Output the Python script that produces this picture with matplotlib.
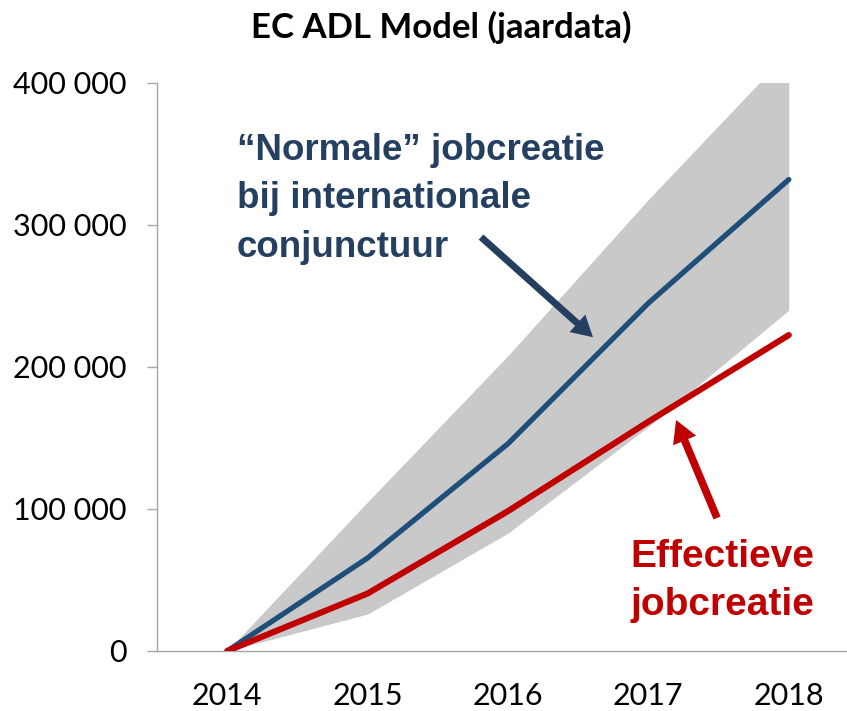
import matplotlib

matplotlib.use("Agg")
import matplotlib.pyplot as plt
import numpy as np

YEARS = ["2014", "2015", "2016", "2017", "2018"]
NORMAL_JOBS = [0, 65500, 146000, 245000, 332000]
ACTUAL_JOBS = [0, 40500, 98500, 161500, 222500]
BAND_LOW = [0, 26000, 83000, 158000, 240000]
BAND_HIGH = [0, 105000, 208000, 318000, 422000]
Y_TICKS = [0, 100000, 200000, 300000, 400000]

NAVY = "#243F60"
BLUE = "#1F4E79"
RED = "#C00000"
GREY = "#C9C9C9"

W, H = 847, 711
fig = plt.figure(figsize=(W / 100, H / 100), dpi=100)
# axes box in pixels: left spine at x=157, y=0 at 651, 400k at 83, right edge beyond image
ax = fig.add_axes([157 / W, 60 / H, 702 / W, 568 / H])

x = np.arange(len(YEARS))
ax.fill_between(x, BAND_LOW, BAND_HIGH, color=GREY, lw=0, zorder=1)
ax.plot(x, NORMAL_JOBS, color=BLUE, lw=3.8, solid_capstyle="round", zorder=3)
ax.plot(x, ACTUAL_JOBS, color=RED, lw=4.4, solid_capstyle="round", zorder=4)

ax.set_xlim(-0.5, 4.5)
ax.set_ylim(0, 400000)
ax.set_xticks(x, YEARS)
ax.set_yticks(Y_TICKS, [f"{v:,}".replace(",", " ") for v in Y_TICKS])

for side in ("top", "right"):
    ax.spines[side].set_visible(False)
for side in ("left", "bottom"):
    ax.spines[side].set_color("#A6A6A6")
    ax.spines[side].set_linewidth(1.0)

ax.tick_params(axis="y", length=7, width=1.0, color="#A6A6A6", pad=15,
               labelsize=22, labelcolor="black")
ax.tick_params(axis="x", length=0, pad=22, labelsize=22, labelcolor="black")
for lab in ax.get_xticklabels() + ax.get_yticklabels():
    lab.set_family("Lato")

fig.text(441 / W, 1 - 38 / H, "EC ADL Model (jaardata)", ha="center", va="baseline",
         fontsize=25, fontweight="bold", family="Lato")

ax.text(0.07, 365000, "\u201cNormale\u201d jobcreatie\nbij internationale\nconjunctuur",
        ha="left", va="top", fontsize=26.5, fontweight="bold", color=NAVY,
        family="Liberation Sans", linespacing=1.5)

ax.text(3.53, 20000, "Effectieve\njobcreatie", ha="center", va="bottom",
        fontsize=28, fontweight="bold", color=RED, family="Liberation Sans",
        linespacing=1.42)

ax.annotate("", xy=(2.605, 221000), xytext=(1.808, 291500),
            arrowprops=dict(width=5, headwidth=17, headlength=15, shrink=0,
                            color=NAVY, lw=0), zorder=5)
ax.annotate("", xy=(3.197, 162700), xytext=(3.489, 93700),
            arrowprops=dict(width=5.5, headwidth=18, headlength=16, shrink=0,
                            color=RED, lw=0), zorder=5)

fig.savefig("out.png", dpi=100)
